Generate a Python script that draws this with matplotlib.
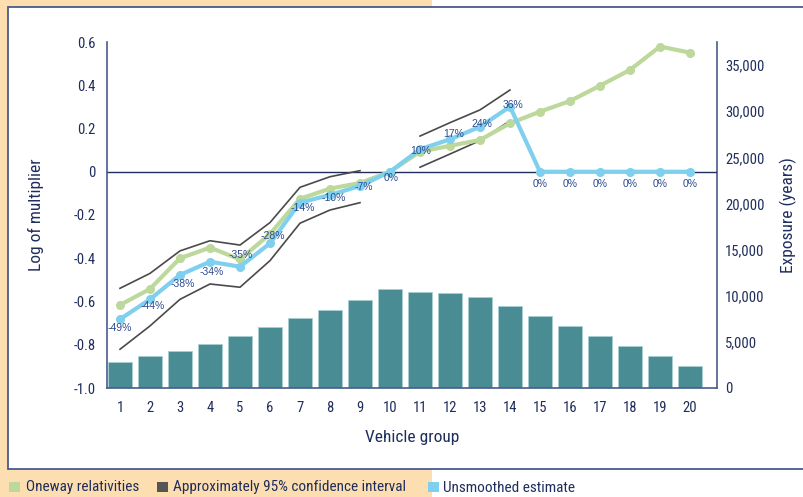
import matplotlib
matplotlib.use('Agg')
import matplotlib.pyplot as plt
from matplotlib.patches import Rectangle

# data
groups = list(range(1, 21))
oneway = [-0.616, -0.542, -0.400, -0.351, -0.405, -0.288, -0.125, -0.078, -0.052, 0.0,
          0.093, 0.120, 0.147, 0.224, 0.278, 0.327, 0.398, 0.471, 0.579, 0.551]
unsmoothed = [-0.682, -0.590, -0.477, -0.416, -0.439, -0.331, -0.143, -0.107, -0.066, 0.0,
              0.104, 0.150, 0.208, 0.301, 0.0, 0.0, 0.0, 0.0, 0.0, 0.0]
pct_labels = ['-49%', '-44%', '-38%', '-34%', '-35%', '-28%', '-14%', '-10%', '-7%', '0%',
              '10%', '17%', '24%', '36%', '0%', '0%', '0%', '0%', '0%', '0%']
ci_groups_a = list(range(1, 10))
ci_upper_a = [-0.539, -0.470, -0.366, -0.319, -0.339, -0.235, -0.072, -0.023, 0.005]
ci_lower_a = [-0.821, -0.713, -0.590, -0.519, -0.534, -0.411, -0.238, -0.177, -0.143]
ci_groups_b = [11, 12, 13, 14]
ci_upper_b = [0.165, 0.227, 0.286, 0.378]
ci_lower_b = [0.021, 0.082, 0.144, 0.236]
exposure = [2790, 3500, 4050, 4740, 5640, 6650, 7590, 8420, 9510, 10700,
            10450, 10270, 9900, 8930, 7840, 6720, 5670, 4590, 3470, 2420]

# label offsets in pixels (dx, dy)
lbl_off = [(0, -9), (3, -7), (3, -9), (2, -10), (1, 12), (3, 7), (3, -5), (4, -3), (4, -1), (1, -6),
           (1, -2), (4, 5), (2, 3), (3, 2), (0, -12), (0, -12), (0, -12), (0, -12), (0, -12), (0, -12)]

NAVY = '#1e2d5c'
SPINE = '#4a5a8c'
GREEN = '#bdd89b'
BLUE = '#7fcfee'
GREY = '#4a4a4a'
TEAL = '#4a8c94'
PEACH = '#fddeb0'
LBL = '#2d4b8e'

plt.rcParams['font.family'] = ['Roboto Condensed', 'Open Sans Condensed', 'Noto Sans', 'DejaVu Sans']
plt.rcParams['font.stretch'] = 'condensed'

fig = plt.figure(figsize=(8.04, 4.97), dpi=100, facecolor='white')
W, H = 804, 497

# background: peach left part, white framed box
fig.patches.append(Rectangle((0, 0), 432 / W, 1, transform=fig.transFigure,
                             facecolor=PEACH, edgecolor='none', zorder=-5))
fig.patches.append(Rectangle((8 / W, 1 - 469 / H), 1.0, (469 - 7) / H, transform=fig.transFigure,
                             facecolor='white', edgecolor=SPINE, lw=1.3, zorder=-4))

ax = fig.add_axes([107 / W, 1 - 388 / H, (716.7 - 107) / W, (388 - 42) / H])
ax2 = ax.twinx()
ax.set_zorder(ax2.get_zorder() + 1)
ax.patch.set_visible(False)
ax2.patch.set_visible(False)

# exposure bars
ax2.bar(groups, exposure, width=0.8, color=TEAL, edgecolor='#a9cfd3', linewidth=0.6)
ax2.set_ylim(0, 37500)
ax2.set_yticks([0, 5000, 10000, 15000, 20000, 25000, 30000, 35000])
ax2.set_yticklabels(['0', '5,000', '10,000', '15,000', '20,000', '25,000', '30,000', '35,000'])
ax2.set_ylabel('Exposure (years)', fontsize=12.5, color=NAVY, labelpad=11)

# lines
ax.axhline(0, color=NAVY, lw=1.0, zorder=1)
ax.plot(ci_groups_a, ci_upper_a, color=GREY, lw=1.2, zorder=2)
ax.plot(ci_groups_a, ci_lower_a, color=GREY, lw=1.2, zorder=2)
ax.plot(ci_groups_b, ci_upper_b, color=GREY, lw=1.2, zorder=2)
ax.plot(ci_groups_b, ci_lower_b, color=GREY, lw=1.2, zorder=2)
ax.plot(groups, oneway, color=GREEN, lw=3, marker='o', ms=5.5, zorder=3)
ax.plot(groups, unsmoothed, color=BLUE, lw=3, marker='o', ms=5.5, zorder=4)

for g, v, t, (dx, dy) in zip(groups, unsmoothed, pct_labels, lbl_off):
    ax.annotate(t, (g, v), xytext=(dx * 0.72, dy * 0.72), textcoords='offset points',
                ha='center', va='center', fontsize=7.5, color=LBL,
                family=['Liberation Sans', 'DejaVu Sans'], stretch='normal', zorder=5)

ax.set_xlim(0.567, 20.89)
ax.set_ylim(-1.0, 0.6)
ax.set_xticks(groups)
ax.set_yticks([-1.0, -0.8, -0.6, -0.4, -0.2, 0, 0.2, 0.4, 0.6])
ax.set_yticklabels(['-1.0', '-0.8', '-0.6', '-0.4', '-0.2', '0', '0.2', '0.4', '0.6'])
ax.set_xlabel('Vehicle group', fontsize=12.5, color=NAVY, labelpad=11)
ax.set_ylabel('Log of multiplier', fontsize=12.5, color=NAVY, labelpad=21)

for a in (ax, ax2):
    for s in a.spines.values():
        s.set_visible(False)
    a.tick_params(length=0, labelsize=10.5, labelcolor=NAVY)
ax.spines['left'].set_visible(True)
ax.spines['bottom'].set_visible(True)
ax2.spines['right'].set_visible(True)
for s in (ax.spines['left'], ax.spines['bottom'], ax2.spines['right']):
    s.set_color(SPINE)
    s.set_linewidth(1.2)
ax.tick_params(axis='x', pad=9)
ax.tick_params(axis='y', pad=8)
ax2.tick_params(axis='y', pad=6)

# legend along the bottom
legend_items = [(9, 26, GREEN, 'Oneway relativities'),
                (157, 173, '#555555', 'Approximately 95% confidence interval'),
                (428, 443, BLUE, 'Unsmoothed estimate')]
for sx, tx, col, txt in legend_items:
    fig.patches.append(Rectangle((sx / W, 1 - 492 / H), 11 / W, 10 / H, transform=fig.transFigure,
                                 facecolor=col, edgecolor='none', zorder=2))
    fig.text(tx / W, 1 - 487.5 / H, txt, fontsize=11, color=NAVY, va='center', ha='left')

fig.savefig('out.png', dpi=100, facecolor=fig.get_facecolor())
